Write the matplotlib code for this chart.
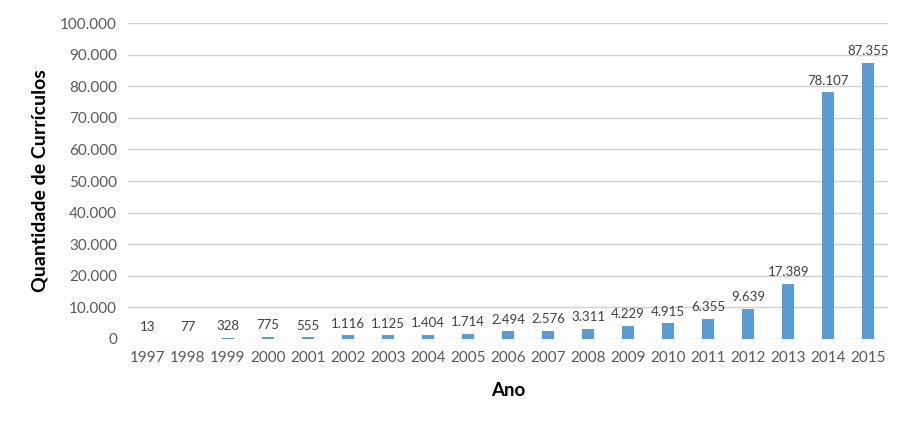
import matplotlib
matplotlib.use("Agg")
import matplotlib.pyplot as plt

years = ["1997", "1998", "1999", "2000", "2001", "2002", "2003", "2004", "2005", "2006",
         "2007", "2008", "2009", "2010", "2011", "2012", "2013", "2014", "2015"]
values = [13, 77, 328, 775, 555, 1116, 1125, 1404, 1714, 2494,
          2576, 3311, 4229, 4915, 6355, 9639, 17389, 78107, 87355]
yticks = [0, 10000, 20000, 30000, 40000, 50000, 60000, 70000, 80000, 90000, 100000]

def fmt(v):
    return f"{v:,}".replace(",", ".")

plt.rcParams['font.family'] = ['Lato', 'DejaVu Sans']

fig = plt.figure(figsize=(9.11, 4.28), dpi=100)
ax = fig.add_axes([0.1405, 0.208, 0.8345, 0.738])

x = list(range(len(years)))
bars = ax.bar(x, values, width=0.3, color="#5B9BD5", zorder=3)
for xi, v in zip(x, values):
    ax.annotate(fmt(v), (xi, v), xytext=(0, 4), textcoords="offset points",
                ha="center", va="bottom", fontsize=9.5, color="#404040")

ax.set_xlim(-0.5, len(years) - 0.5)
ax.set_ylim(0, 100000)
ax.set_yticks(yticks)
ax.set_yticklabels([fmt(t) for t in yticks])
ax.set_xticks(x)
ax.set_xticklabels(years)
ax.tick_params(axis="both", length=0, labelsize=11, colors="#595959")
ax.tick_params(axis="x", pad=9)
ax.tick_params(axis="y", pad=8)
for s in ax.spines.values():
    s.set_visible(False)
ax.yaxis.grid(True, color="#D0D0D0", linewidth=1.0, zorder=0)
ax.set_axisbelow(True)

ax.set_xlabel("Ano", fontsize=13.5, fontweight="bold", color="black", labelpad=12)
ax.set_ylabel("Quantidade de Currículos", fontsize=14, fontweight="bold", color="black", labelpad=8)

fig.savefig("out.png", dpi=100)
